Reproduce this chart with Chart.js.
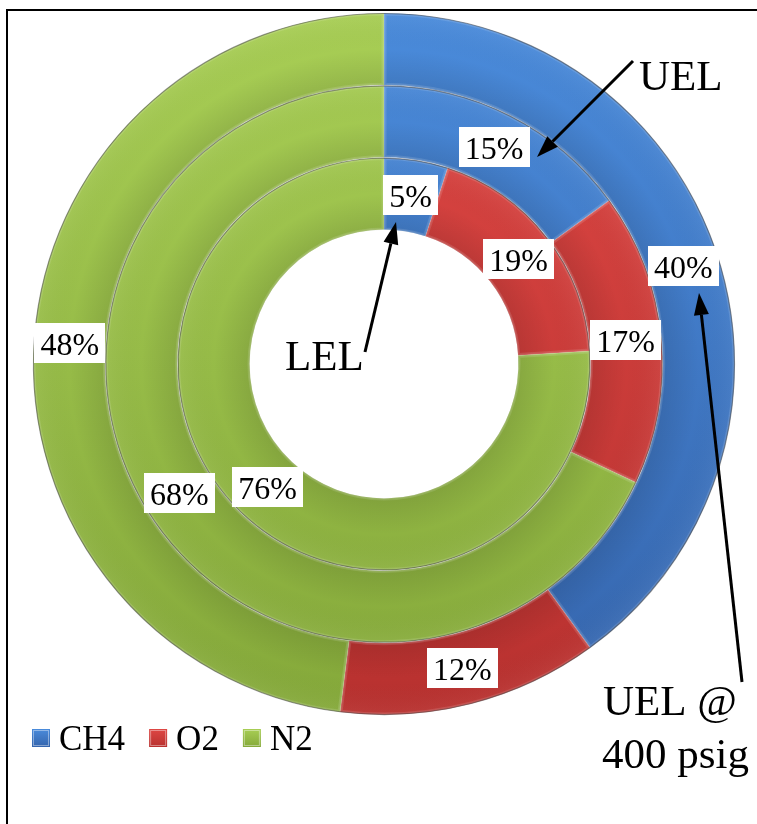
<!DOCTYPE html>
<html>
<head>
<meta charset="utf-8">
<script src="https://cdn.jsdelivr.net/npm/chart.js@4/dist/chart.umd.min.js"></script>
<style>
  html, body { margin: 0; padding: 0; background: #fff; overflow: hidden; }
  #wrap { position: relative; width: 757px; height: 824px; }
</style>
</head>
<body>
<div id="wrap"><canvas id="chart" width="757" height="824"></canvas></div>
<script>
// Gas composition at the flammability limits (mole %)
const gases = ['CH4', 'O2', 'N2'];
const uelAt400 = [40, 12, 48];   // outer ring
const uel = [15, 17, 68];        // middle ring
const lel = [5, 19, 76];         // inner ring
const ringNames = ['UEL @ 400 psig', 'UEL', 'LEL'];

// light (top) / dark (bottom) shade for each gas
const shadesTop = ['#4a8bdb', '#de4744', '#a8ce55'];
const shadesBottom = ['#3565ad', '#b8312f', '#85a93a'];

const serif = '"Liberation Serif", "Times New Roman", serif';

// callouts: text and arrows (canvas px)
const callouts = [
  { lines: ['UEL'], x: 639, y: 90, arrow: [[633, 61], [537, 157]] },
  { lines: ['LEL'], x: 285, y: 370, arrow: [[365, 352], [396, 222]] },
  { lines: ['UEL @', '400 psig'], x: 603, y: 715, arrow: [[742, 682], [699, 293]] }
];

const gradCache = {};
function shade(i) {
  return (ctx) => {
    const chart = ctx.chart;
    const a = chart.chartArea;
    if (!a) return shadesTop[i];
    const key = i + ':' + a.top + ':' + a.bottom;
    if (!gradCache[key]) {
      const cy = (a.top + a.bottom) / 2;
      const g = chart.ctx.createLinearGradient(0, cy - 351, 0, cy + 351);
      g.addColorStop(0, shadesTop[i]);
      g.addColorStop(1, shadesBottom[i]);
      gradCache[key] = g;
    }
    return gradCache[key];
  };
}

function ringDataset(label, values) {
  return {
    label: label,
    data: values,
    backgroundColor: (ctx) => shade(ctx.dataIndex)(ctx),
    borderColor: 'rgba(255,255,255,0.12)',
    borderWidth: 1,
    borderAlign: 'inner',
    hoverOffset: 0
  };
}

// bevel look: edge highlight, inner shading, dark seams between rings
const bevel = {
  id: 'bevel',
  afterDatasetsDraw(chart) {
    const ctx = chart.ctx;
    chart.data.datasets.forEach((ds, di) => {
      chart.getDatasetMeta(di).data.forEach((arc) => {
        const p = arc.getProps(['x', 'y', 'startAngle', 'endAngle', 'innerRadius', 'outerRadius']);
        ctx.save();
        ctx.beginPath();
        ctx.arc(p.x, p.y, p.outerRadius, p.startAngle, p.endAngle);
        ctx.arc(p.x, p.y, p.innerRadius, p.endAngle, p.startAngle, true);
        ctx.closePath();
        ctx.clip();
        const rg = ctx.createRadialGradient(p.x, p.y, p.innerRadius, p.x, p.y, p.outerRadius);
        rg.addColorStop(0, 'rgba(0,0,0,0.10)');
        rg.addColorStop(0.5, 'rgba(0,0,0,0.0)');
        rg.addColorStop(1, 'rgba(255,255,255,0.05)');
        ctx.fillStyle = rg;
        ctx.fill();
        ctx.lineWidth = 5;
        ctx.strokeStyle = 'rgba(255,255,255,0.12)';
        ctx.stroke();
        ctx.restore();
        ctx.save();
        ctx.beginPath();
        ctx.arc(p.x, p.y, p.outerRadius - 0.5, p.startAngle, p.endAngle);
        ctx.lineWidth = 1.2;
        ctx.strokeStyle = 'rgba(30,30,30,0.45)';
        ctx.stroke();
        ctx.restore();
      });
    });
  }
};

// percentage tags at each slice centroid
const pctTags = {
  id: 'pctTags',
  afterDatasetsDraw(chart) {
    const ctx = chart.ctx;
    ctx.save();
    ctx.font = '32px ' + serif;
    ctx.textAlign = 'center';
    ctx.textBaseline = 'alphabetic';
    chart.data.datasets.forEach((ds, di) => {
      chart.getDatasetMeta(di).data.forEach((arc, i) => {
        const c = arc.tooltipPosition();
        const txt = ds.data[i] + '%';
        const w = ctx.measureText(txt).width + 12;
        const h = 40;
        ctx.fillStyle = '#ffffff';
        ctx.fillRect(Math.round(c.x - w / 2), Math.round(c.y - h / 2 - 1), Math.round(w), h);
        ctx.fillStyle = '#000000';
        ctx.fillText(txt, c.x, c.y + 11);
      });
    });
    ctx.restore();
  }
};

// frame, callouts and legend
const extras = {
  id: 'extras',
  beforeDraw(chart) {
    const ctx = chart.ctx;
    ctx.save();
    ctx.fillStyle = '#000';
    ctx.fillRect(6, 9, 760, 2);
    ctx.fillRect(6, 9, 2, 830);
    ctx.restore();
  },
  afterDraw(chart) {
    const ctx = chart.ctx;
    ctx.save();
    ctx.fillStyle = '#000';
    ctx.strokeStyle = '#000';
    ctx.font = '43px ' + serif;
    ctx.textAlign = 'left';
    ctx.textBaseline = 'alphabetic';
    callouts.forEach((c) => {
      c.lines.forEach((t, k) => ctx.fillText(t, c.x - (k ? 1 : 0), c.y + k * 53));
      const [a, b] = c.arrow;
      const ang = Math.atan2(b[1] - a[1], b[0] - a[0]);
      const headLen = 22, headHalf = 7.5;
      const bx = b[0] - headLen * Math.cos(ang), by = b[1] - headLen * Math.sin(ang);
      ctx.lineWidth = 3;
      ctx.beginPath();
      ctx.moveTo(a[0], a[1]);
      ctx.lineTo(bx, by);
      ctx.stroke();
      ctx.beginPath();
      ctx.moveTo(b[0], b[1]);
      ctx.lineTo(bx + headHalf * Math.sin(ang), by - headHalf * Math.cos(ang));
      ctx.lineTo(bx - headHalf * Math.sin(ang), by + headHalf * Math.cos(ang));
      ctx.closePath();
      ctx.fill();
    });

    // legend
    ctx.font = '35px ' + serif;
    let x = 32;
    const top = 729, size = 18, base = 750;
    chart.data.labels.forEach((lab, i) => {
      const g = ctx.createLinearGradient(0, top, 0, top + size);
      g.addColorStop(0, shadesTop[i]);
      g.addColorStop(1, shadesBottom[i]);
      ctx.fillStyle = g;
      ctx.fillRect(x, top, size, size);
      ctx.strokeStyle = 'rgba(255,255,255,0.4)';
      ctx.lineWidth = 1;
      ctx.strokeRect(x + 1.5, top + 1.5, size - 3, size - 3);
      x += size + 9;
      ctx.fillStyle = '#000';
      ctx.fillText(lab, x, base);
      x += ctx.measureText(lab).width + 24;
    });
    ctx.restore();
  }
};

new Chart(document.getElementById('chart'), {
  type: 'doughnut',
  data: {
    labels: gases,
    datasets: [
      ringDataset(ringNames[0], uelAt400),
      ringDataset(ringNames[1], uel),
      ringDataset(ringNames[2], lel)
    ]
  },
  options: {
    responsive: false,
    animation: false,
    radius: 351,
    cutout: '38.2%',
    layout: { padding: { left: 17, right: 6, top: 10, bottom: 106 } },
    plugins: {
      legend: { display: false },
      tooltip: { enabled: false }
    },
    events: []
  },
  plugins: [bevel, pctTags, extras]
});
</script>
</body>
</html>
